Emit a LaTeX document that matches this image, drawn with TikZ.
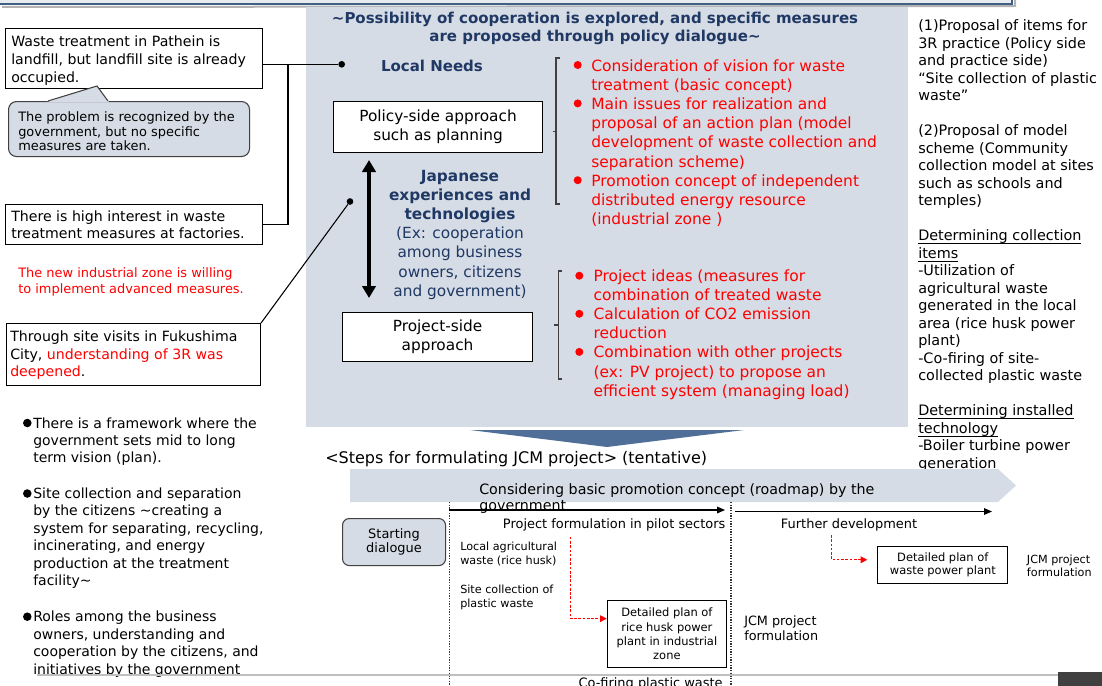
\documentclass[tikz,border=0pt]{standalone}
\usepackage{fontspec}
\setmainfont{DejaVu Sans}
\usetikzlibrary{arrows.meta,calc}
\definecolor{navy}{HTML}{1F3864}
\definecolor{panel}{HTML}{D6DCE5}
\definecolor{chev}{HTML}{4F6E98}
\definecolor{brkc}{HTML}{404040}
\definecolor{hdr}{HTML}{3F5F85}
\newcommand{\myfs}[2]{\fontsize{#1}{#2}\selectfont}
\newcommand{\myL}[1]{\begin{tabular}[t]{@{}l@{}}#1\end{tabular}}
\newcommand{\myC}[1]{\begin{tabular}[t]{@{}c@{}}#1\end{tabular}}
\newcommand{\myul}[1]{\setbox0\hbox{#1}\rlap{\rule[-2.4pt]{\wd0}{0.5pt}}\box0}
\begin{document}
\begin{tikzpicture}[x=0.75pt,y=-0.75pt,
  T/.style={inner sep=0pt, anchor=base west},
  TC/.style={inner sep=0pt, anchor=base},
  box/.style={draw=black, fill=white, line width=0.8pt, inner sep=0pt},
  wh/.style 2 args={minimum width=#1*0.75pt, minimum height=#2*0.75pt},
  dot/.style={circle, fill=black, inner sep=0pt, minimum size=5pt},
  callout/.style={draw=brkc, fill=panel, line width=0.8pt, rounded corners=6pt, inner sep=0pt},
  brk/.style={draw=brkc, line width=0.8pt},
  conn/.style={line width=0.8pt},
  tl/.style={line width=0.8pt, -{Triangle[length=6pt,width=5pt]}},
  rdash/.style={red, line width=0.8pt, dash pattern=on 2pt off 1.2pt, -{Triangle[length=5pt,width=5pt]}},
  dv/.style={line width=0.8pt, dash pattern=on 1pt off 1pt, black!80},
  bigarrow/.style={line width=3pt, {Triangle[length=9pt,width=10pt]}-{Triangle[length=9pt,width=10pt]}}
]
\useasboundingbox (0,0) rectangle (1102,685);

% header strip
\fill[panel!60] (-2,-12) rectangle (1012,4);
\draw[hdr, line width=1.5pt] (-2,4) -- (1012,4) -- (1012,-12);
\draw[black!30, line width=1.5pt] (1015,-12) -- (1015,6) -- (2,7);

% central panel
\fill[panel] (306,7) rectangle (908,427);

% ---------- left column ----------
\node[box, wh={257}{60}, anchor=north west] (b1) at (5,28) {};
\node[T, font=\myfs{10.6}{13.4}] (t1) at (11,46.5) {\myL{Waste treatment in Pathein is\\landfill, but landfill site is already\\occupied.}};

\node[callout, wh={241}{55}, anchor=north west] (cb) at (8,101) {};
\fill[panel] (47,102) -- (97,86) -- (109,102) -- cycle;
\draw[brkc, line width=0.8pt] (48,101) -- (97,86) -- (108,101);
\node[T, font=\myfs{9.7}{10.9}] (tcb) at (18,121.5) {\myL{The problem is recognized by the\\government, but no specific\\measures are taken.}};

\node[box, wh={257}{40}, anchor=north west] (b2) at (5,204) {};
\node[T, font=\myfs{10.6}{13.1}] (t2) at (11,221.5) {\myL{There is high interest in waste\\treatment measures at factories.}};

\node[T, red, font=\myfs{9.7}{12}] (tred) at (18,277) {\myL{The new industrial zone is willing\\to implement advanced measures.}};

\node[box, wh={254}{62}, anchor=north west] (b3) at (6,323) {};
\node[T, font=\myfs{10.6}{13.1}] (t3) at (10,341.7) {\myL{Through site visits in Fukushima\\City, \textcolor{red}{understanding of 3R was}\\\textcolor{red}{deepened}.}};

% bullets
\fill (27.3,423) circle[radius=3.2pt];
\node[T, font=\myfs{10.5}{13.1}] (bl1) at (33,428) {\myL{There is a framework where the\\government sets mid to long\\term vision (plan).}};
\fill (27.3,493.5) circle[radius=3.2pt];
\node[T, font=\myfs{10.5}{13.1}] (bl2) at (33,498.5) {\myL{Site collection and separation\\by the citizens \textasciitilde creating a\\system for separating, recycling,\\incinerating, and energy\\production at the treatment\\facility\textasciitilde}};
\fill (27.3,616.7) circle[radius=3.2pt];
\node[T, font=\myfs{10.5}{13.1}] (bl3) at (33,621.7) {\myL{Roles among the business\\owners, understanding and\\cooperation by the citizens, and\\initiatives by the government}};

% ---------- center panel ----------
\node[TC, navy, font=\bfseries\myfs{11.25}{14}] (title) at (595,23.3) {\myC{\textasciitilde Possibility of cooperation is explored, and specific measures\\are proposed through policy dialogue\textasciitilde}};

\node[TC, navy, font=\bfseries\myfs{11.25}{14}] (lntxt) at (432,71) {Local Needs};
\node[dot] (ln) at (341.7,64.3) {};
\node[dot] (jpd) at (350,201.5) {};

\coordinate (j1) at (288,64.3);
\draw[conn] (b1.east |- ln) -- (ln);
\draw[conn] (b2.east) -| (j1);
\draw[conn] (b3.north east) -- (jpd);

\node[box, wh={209}{51}, anchor=north west, align=center, font=\myfs{11.5}{14}] (pol) at (333,101) {Policy-side approach\\such as planning};
\node[box, wh={190}{49}, anchor=north west, align=center, font=\myfs{11.5}{14}] (proj) at (342,312) {Project-side\\approach};

\coordinate (da) at (369,160);
\coordinate (db) at (369,298);
\draw[bigarrow] (da) -- (db);

\node[TC, navy, font=\myfs{11.5}{14.3}] (jp) at (460,181.7) {\myC{\textbf{Japanese}\\\textbf{experiences and}\\\textbf{technologies}\\(Ex: cooperation\\among business\\owners, citizens\\and government)}};

% brackets
\draw[brk] (560,58) -- (556,58) -- (556,204) -- (560,204);
\draw[brk] (556,131.5) -- (552.5,131.5);
\draw[brk] (562,271) -- (558.3,271) -- (558.3,379) -- (562,379);
\draw[brk] (558.3,325) -- (554,325);

% red list 1
\foreach \yy in {65,103.4,180.2} \fill[red] (577.7,\yy) circle[radius=3pt];
\node[T, red, font=\myfs{11.6}{14.4}] (r1) at (591,71) {\myL{Consideration of vision for waste\\treatment (basic concept)\\Main issues for realization and\\proposal of an action plan (model\\development of waste collection and\\separation scheme)\\Promotion concept of independent\\distributed energy resource\\(industrial zone )}};

% red list 2
\foreach \yy in {275.7,313.8,351.9} \fill[red] (579.3,\yy) circle[radius=3pt];
\node[T, red, font=\myfs{11.6}{14.3}] (r2) at (593.3,281.7) {\myL{Project ideas (measures for\\combination of treated waste\\Calculation of CO2 emission\\reduction\\Combination with other projects\\(ex: PV project) to propose an\\efficient system (managing load)}};

% ---------- right column ----------
\node[T, font=\myfs{10.8}{13.125}] (rc) at (918,30.7) {\myL{(1)Proposal of items for\\3R practice (Policy side\\and practice side)\\“Site collection of plastic\\waste”\\ \\(2)Proposal of model\\scheme (Community\\collection model at sites\\such as schools and\\temples)\\ \\\myul{Determining collection}\\\myul{items}\\-Utilization of\\agricultural waste\\generated in the local\\area (rice husk power\\plant)\\-Co-firing of site-\\collected plastic waste\\ \\\myul{Determining installed}\\\myul{technology}\\-Boiler turbine power\\generation}};

% ---------- bottom roadmap ----------
\fill[chev] (470,430) -- (744,430) -- (607,447) -- cycle;
\node[T, font=\myfs{12}{14}] (steps) at (325,463.3) {<Steps for formulating JCM project> (tentative)};

\fill[panel] (350,469) -- (998,469) -- (1016,485.5) -- (998,502) -- (350,502) -- cycle;
\node[T, font=\myfs{10.7}{12}] (band) at (479,494) {\myL{Considering basic promotion concept (roadmap) by the\\government}};

\draw[dv] (449.3,502) -- (449.3,690);
\draw[dv] (731,502) -- (731,690);

\coordinate (a1s) at (449.3,510);
\coordinate (a1e) at (725,510);
\coordinate (a2s) at (735,511.5);
\coordinate (a2e) at (992,511.5);
\draw[tl] (a1s) -- (a1e);
\draw[tl] (a2s) -- (a2e);

\node[T, font=\myfs{9.7}{12}] (pf) at (502.7,528.3) {Project formulation in pilot sectors};
\node[T, font=\myfs{9.7}{12}] (fd) at (780.7,528.3) {Further development};

\node[callout, rounded corners=5pt, wh={103}{47}, anchor=north west, align=center, font=\myfs{9.7}{10.9}] (sd) at (342,518) {Starting\\dialogue};

\node[T, font=\myfs{8.4}{10.7}] (la) at (460,550.7) {\myL{Local agricultural\\waste (rice husk)}};
\node[T, font=\myfs{8.4}{10.7}] (sc) at (460,593.3) {\myL{Site collection of\\plastic waste}};

\node[box, wh={119.3}{66.7}, anchor=north west, align=center, font=\myfs{8.6}{10.7}] (det1) at (606.7,600) {Detailed plan of\\rice husk power\\plant in industrial\\zone};
\coordinate (rs1) at (570.7,536.7);
\draw[rdash] (rs1) |- ($(det1.north west)!0.275!(det1.south west)$);

\node[T, font=\myfs{9.6}{11.25}] (jcm1) at (744,625) {\myL{JCM project\\formulation}};
\node[T, font=\myfs{9.7}{12}] (cof) at (578.3,687) {Co-firing plastic waste};

\node[box, wh={130}{37}, anchor=north west, align=center, font=\myfs{8.6}{10}] (det2) at (877.3,545.7) {Detailed plan of\\waste power plant};
\coordinate (rs2) at (831.7,535);
\draw[rdash] (rs2) |- ([xshift=-7.5pt]$(det2.north west)!0.37!(det2.south west)$);

\node[T, font=\myfs{8.4}{10}] (jcm2) at (1026.7,563.3) {\myL{JCM project\\formulation}};

% footer
\draw[black!25, line width=1.2pt] (37,675) -- (1058,675);
\fill[brkc] (1058,672) rectangle (1104,690);
\end{tikzpicture}
\end{document}
